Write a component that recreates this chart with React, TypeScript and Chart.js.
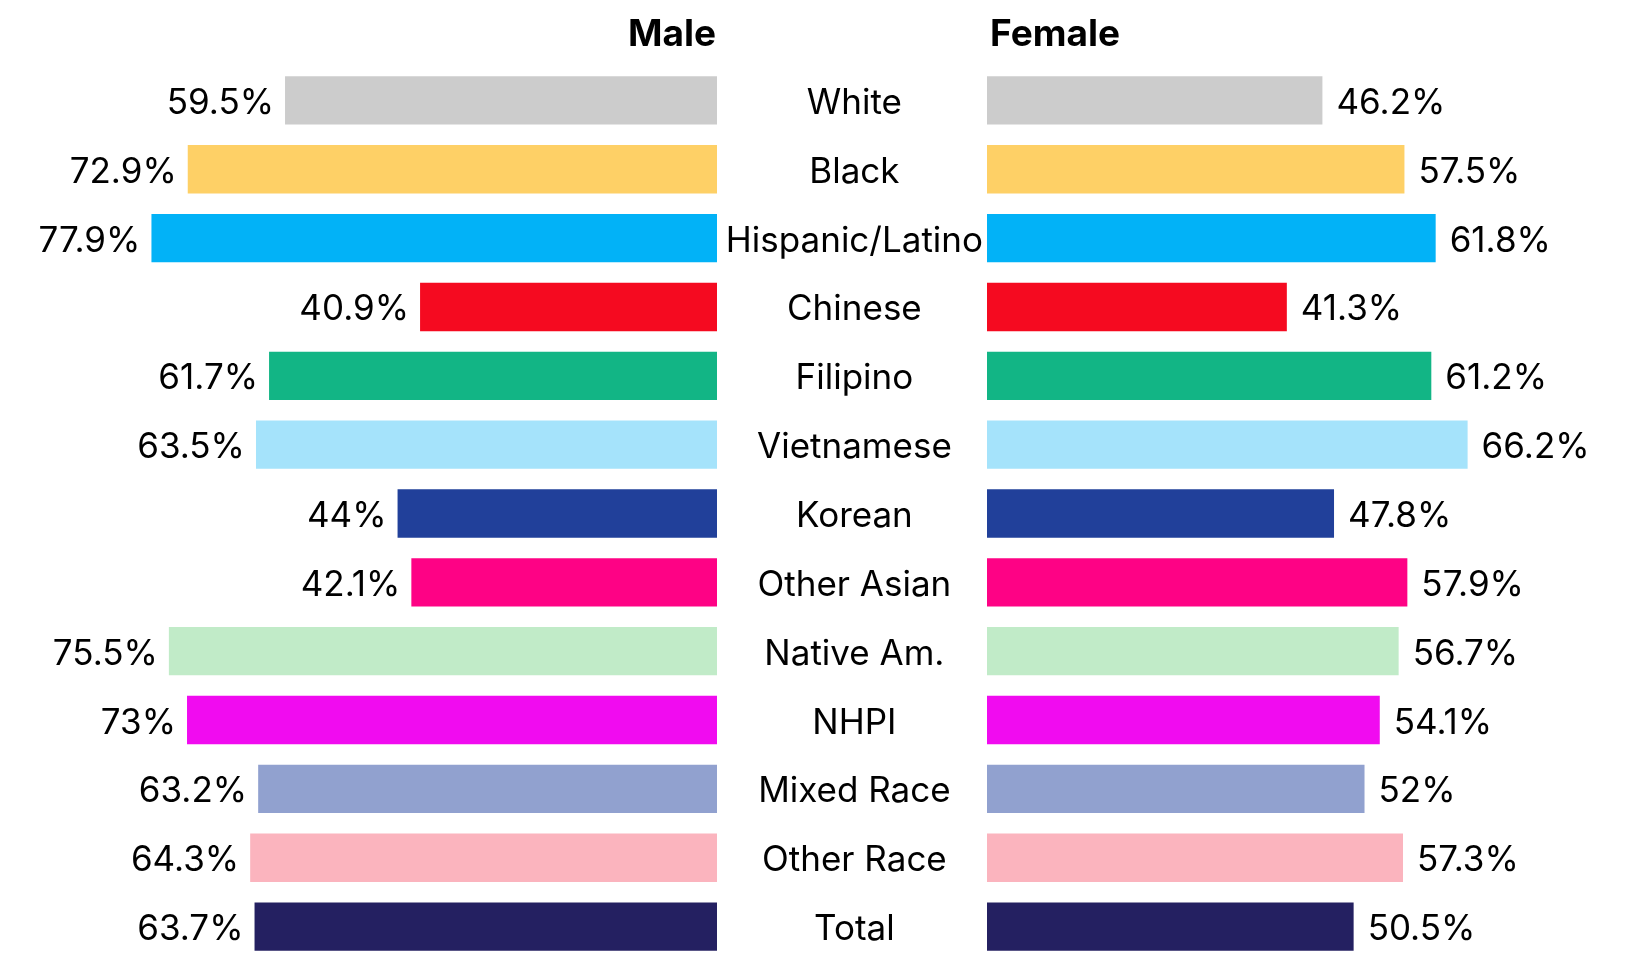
import React, { useEffect, useRef } from "react";
import { Chart, registerables } from "chart.js";

Chart.register(...registerables);

// ---- data ----
const categories = [
  "White",
  "Black",
  "Hispanic/Latino",
  "Chinese",
  "Filipino",
  "Vietnamese",
  "Korean",
  "Other Asian",
  "Native Am.",
  "NHPI",
  "Mixed Race",
  "Other Race",
  "Total",
];
const maleValues = [59.5, 72.9, 77.9, 40.9, 61.7, 63.5, 44, 42.1, 75.5, 73, 63.2, 64.3, 63.7];
const femaleValues = [46.2, 57.5, 61.8, 41.3, 61.2, 66.2, 47.8, 57.9, 56.7, 54.1, 52, 57.3, 50.5];
const barColors = [
  "#cccccc",
  "#fed066",
  "#02b2f7",
  "#f50a20",
  "#12b585",
  "#a5e3fb",
  "#21409a",
  "#fe0285",
  "#c1ebc8",
  "#f10bf0",
  "#91a1cf",
  "#fbb4be",
  "#242061",
];
const panelTitles = ["Male", "Female"];
const axisMin = 0;
const axisMax = 100;

// ---- style ----
const FONT_FAMILY = "Inter, 'Noto Sans', sans-serif";
const LABEL_SIZE = 35;
const HEADER_SIZE = 37;
const CANVAS_H = 961;
const PAD_TOP = 66;
const MALE_W = 726;
const MALE_LEFT = -9;
const FEMALE_LEFT = 717;
const FEMALE_W = 996;
const CAT_AXIS_W = 270;
const TEXT_DY = 3;

function valueLabelPlugin(side: "left" | "right") {
  return {
    id: "valueLabels_" + side,
    afterDatasetsDraw(chart: any) {
      const ctx = chart.ctx;
      const meta = chart.getDatasetMeta(0);
      const data = chart.data.datasets[0].data as number[];
      ctx.save();
      ctx.font = `${LABEL_SIZE}px ${FONT_FAMILY}`;
      ctx.fillStyle = "#000";
      ctx.textBaseline = "middle";
      meta.data.forEach((bar: any, i: number) => {
        const txt = `${data[i]}%`;
        if (side === "left") {
          ctx.textAlign = "right";
          ctx.fillText(txt, bar.x - 11, bar.y + TEXT_DY);
        } else {
          ctx.textAlign = "left";
          ctx.fillText(txt, bar.x + 14, bar.y + TEXT_DY);
        }
      });
      ctx.restore();
    },
  };
}

function headerPlugin(text: string, side: "left" | "right") {
  return {
    id: "header_" + side,
    afterDraw(chart: any) {
      const ctx = chart.ctx;
      const area = chart.chartArea;
      ctx.save();
      ctx.font = `bold ${HEADER_SIZE}px ${FONT_FAMILY}`;
      ctx.fillStyle = "#000";
      ctx.textBaseline = "alphabetic";
      if (side === "left") {
        ctx.textAlign = "right";
        ctx.fillText(text, area.right - 1, 46);
      } else {
        ctx.textAlign = "left";
        ctx.fillText(text, area.left + 3, 46);
      }
      ctx.restore();
    },
  };
}

export default function App() {
  const maleRef = useRef<HTMLCanvasElement | null>(null);
  const femaleRef = useRef<HTMLCanvasElement | null>(null);

  useEffect(() => {
    const common = {
      indexAxis: "y" as const,
      responsive: false,
      maintainAspectRatio: false,
      animation: false as const,
      events: [],
      plugins: { legend: { display: false }, tooltip: { enabled: false }, title: { display: false } },
    };

    const male = new Chart(maleRef.current as HTMLCanvasElement, {
      type: "bar",
      data: {
        labels: categories,
        datasets: [
          {
            data: maleValues,
            backgroundColor: barColors,
            borderWidth: 0,
            barPercentage: 0.702,
            categoryPercentage: 1,
          },
        ],
      },
      options: {
        ...common,
        layout: { padding: { top: PAD_TOP, bottom: 0, left: 0, right: 0 } },
        scales: {
          x: { display: false, reverse: true, min: axisMin, max: axisMax },
          y: { display: false, offset: true },
        },
      },
      plugins: [valueLabelPlugin("left"), headerPlugin(panelTitles[0], "left")],
    });

    const female = new Chart(femaleRef.current as HTMLCanvasElement, {
      type: "bar",
      data: {
        labels: categories,
        datasets: [
          {
            data: femaleValues,
            backgroundColor: barColors,
            borderWidth: 0,
            barPercentage: 0.702,
            categoryPercentage: 1,
          },
        ],
      },
      options: {
        ...common,
        layout: { padding: { top: PAD_TOP, bottom: 0, left: 0, right: 0 } },
        scales: {
          x: { display: false, min: axisMin, max: axisMax },
          y: {
            position: "left",
            offset: true,
            grid: { display: false, drawTicks: false },
            border: { display: false },
            ticks: {
              autoSkip: false,
              crossAlign: "center",
              padding: 4,
              labelOffset: TEXT_DY,
              color: "#000",
              font: { family: FONT_FAMILY, size: LABEL_SIZE },
            },
            afterFit(scale: any) {
              scale.width = CAT_AXIS_W;
              scale.paddingTop = 0;
              scale.paddingBottom = 0;
            },
          },
        },
      },
      plugins: [valueLabelPlugin("right"), headerPlugin(panelTitles[1], "right")],
    });

    return () => {
      male.destroy();
      female.destroy();
    };
  }, []);

  return (
    <div
      style={{
        position: "absolute",
        left: 0,
        top: 0,
        width: 1645,
        height: 953,
        overflow: "hidden",
        background: "#ffffff",
      }}
    >
      <canvas
        ref={maleRef}
        width={MALE_W}
        height={CANVAS_H}
        style={{ position: "absolute", left: MALE_LEFT, top: 0, width: MALE_W, height: CANVAS_H }}
      />
      <canvas
        ref={femaleRef}
        width={FEMALE_W}
        height={CANVAS_H}
        style={{ position: "absolute", left: FEMALE_LEFT, top: 0, width: FEMALE_W, height: CANVAS_H }}
      />
    </div>
  );
}
